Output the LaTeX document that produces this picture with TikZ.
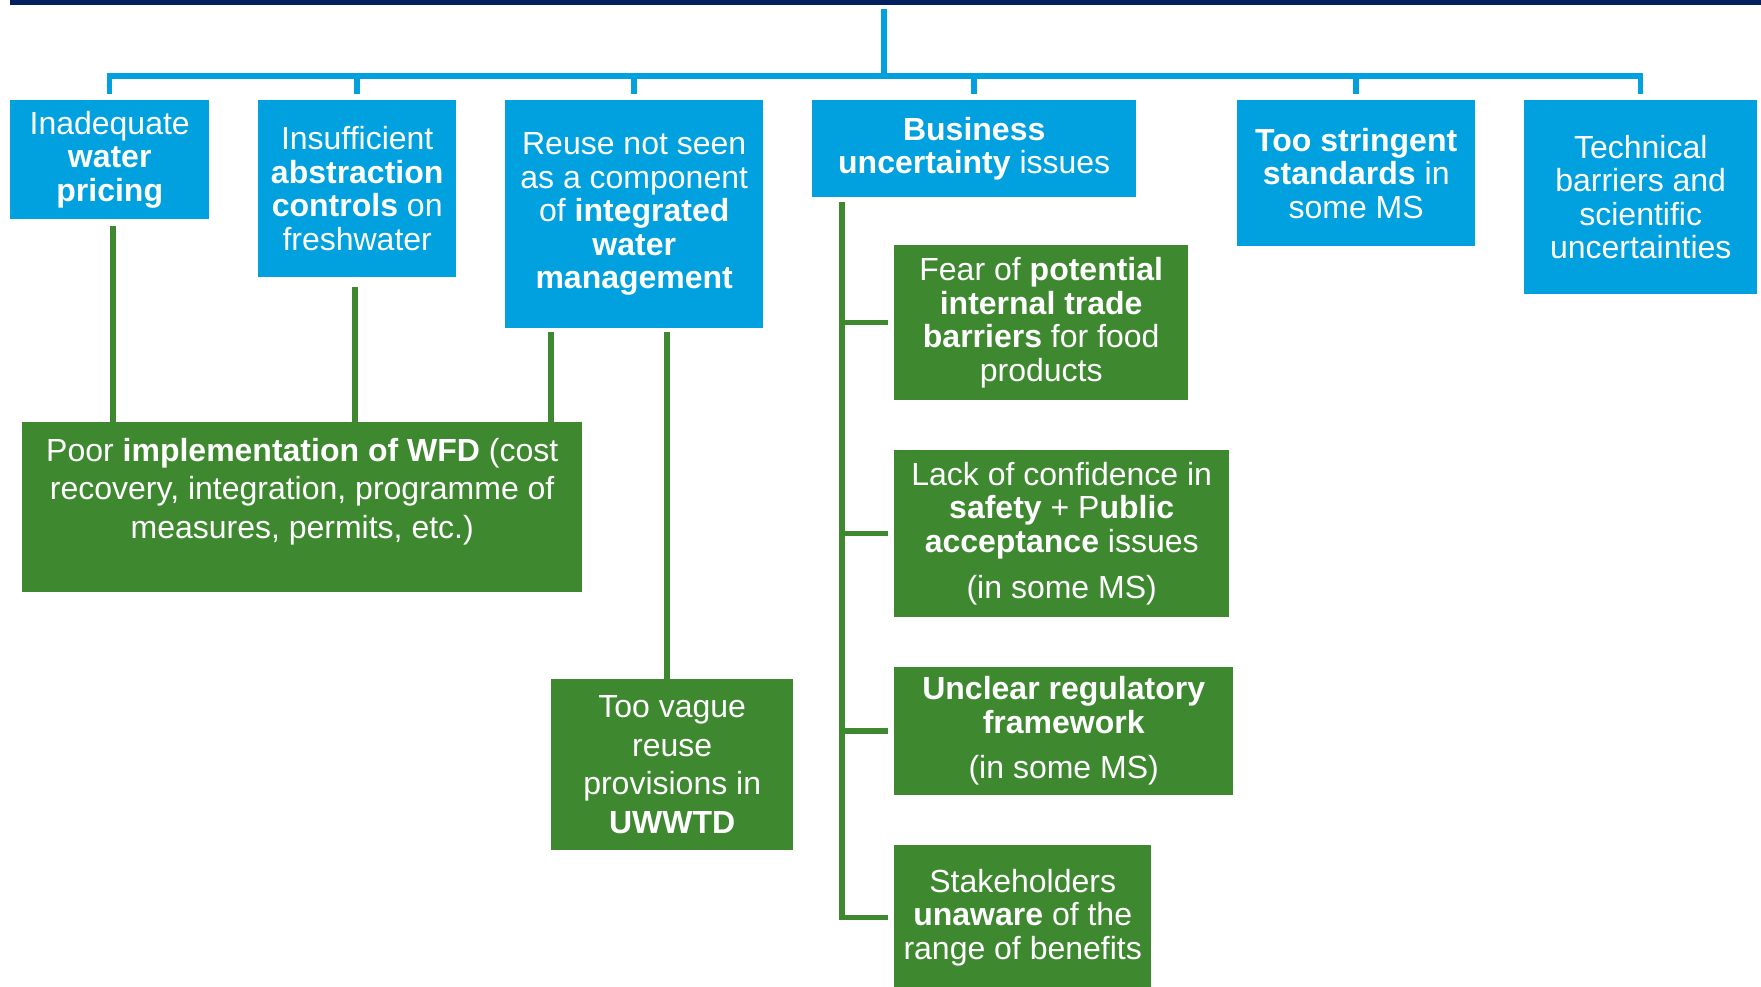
\documentclass[tikz,border=0pt]{standalone}
\usepackage{fontspec}
\setmainfont{Liberation Sans}
\definecolor{bbox}{RGB}{0,161,222}
\definecolor{gbox}{RGB}{62,137,48}
\definecolor{navy}{RGB}{0,32,96}
\begin{document}
\begin{tikzpicture}[x=1pt,y=-1pt,
  box/.style={draw=none, inner sep=0pt, anchor=north west, align=center, text=white,
    font=\fontsize{32}{33.5}\selectfont},
  bbx/.style={box, fill=bbox},
  gbx/.style={box, fill=gbox},
  wide/.style={font=\fontsize{32}{38.5}\selectfont},
  bline/.style={draw=bbox, line width=5.5pt},
  gline/.style={draw=gbox, line width=5.5pt}]
\useasboundingbox (0,0) rectangle (1761,986);
\fill[navy] (10,0) rectangle (1761,4.5);

% blue boxes
\node[bbx, minimum width=199pt, minimum height=119pt] (inad) at (10,100)
  {Inadequate\\ \textbf{water}\\ \textbf{pricing}};
\node[bbx, minimum width=198pt, minimum height=177pt] (insuf) at (258,100)
  {Insufficient\\ \textbf{abstraction}\\ \textbf{controls} on\\ freshwater};
\node[bbx, minimum width=258pt, minimum height=228pt] (reuse) at (505,100)
  {Reuse not seen\\ as a component\\ of \textbf{integrated}\\ \textbf{water}\\ \textbf{management}};
\node[bbx, minimum width=324pt, minimum height=97pt] (biz) at (812,100)
  {\textbf{Business}\\ \textbf{uncertainty} issues};
\node[bbx, minimum width=238pt, minimum height=146pt] (strin) at (1237,100)
  {\textbf{Too stringent}\\ \textbf{standards} in\\ some MS};
\node[bbx, minimum width=233pt, minimum height=194pt] (tech) at (1524,100)
  {Technical\\ barriers and\\ scientific\\ uncertainties};

% green boxes
\node[gbx, wide, minimum width=560pt, minimum height=170pt] (poor) at (22,422)
  {Poor \textbf{implementation of WFD} (cost\\ recovery, integration, programme of\\ measures, permits, etc.)\\[-12pt] \strut};
\node[gbx, wide, minimum width=242pt, minimum height=171pt] (vague) at (551,679)
  {Too vague\\ reuse\\ provisions in\\ \textbf{UWWTD}};
\node[gbx, minimum width=294pt, minimum height=155pt] (fear) at (894,245)
  {Fear of \textbf{potential}\\ \textbf{internal trade}\\ \textbf{barriers} for food\\ products};
\node[gbx, minimum width=335pt, minimum height=167pt] (lack) at (894,450)
  {Lack of confidence in\\ \textbf{safety} + P\textbf{ublic}\\ \textbf{acceptance} issues\\[13pt] (in some MS)};
\node[gbx, minimum width=339pt, minimum height=128pt] (unclear) at (894,667)
  {\textbf{Unclear regulatory}\\ \textbf{framework}\\[12pt] (in some MS)};
\node[gbx, minimum width=257pt, minimum height=145pt] (stake) at (894,845)
  {Stakeholders\\ \textbf{unaware} of the\\ range of benefits};

% blue tree
\coordinate (root) at (884,9);
\coordinate (bus) at (884,76);
\draw[bline] (root) -- (bus);
\foreach \n in {inad,insuf,reuse,biz,strin,tech}
  \draw[bline, shorten >=6pt] (bus) -| (\n.north);

% green connectors to Poor / Too vague
\coordinate (p1) at ([xshift=3.5pt]inad.south);
\coordinate (p2) at ([xshift=-2pt]insuf.south);
\coordinate (p3) at ([xshift=-83pt]reuse.south);
\coordinate (p4) at ([xshift=33pt]reuse.south);
\draw[gline, shorten <=7pt] (p1) -- (p1 |- poor.north);
\draw[gline, shorten <=10pt] (p2) -- (p2 |- poor.north);
\draw[gline, shorten <=4pt] (p3) -- (p3 |- poor.north);
\draw[gline, shorten <=4pt] (p4) -- (p4 |- vague.north);

% business trunk
\coordinate (tk) at ([xshift=30pt]biz.south west);
\draw[gline, shorten <=5pt] (tk) |- ([xshift=-6pt]stake.west);
\foreach \n in {fear,lack,unclear}
  \draw[gline] (tk |- \n.west) -- ([xshift=-6pt]\n.west);
\end{tikzpicture}
\end{document}
